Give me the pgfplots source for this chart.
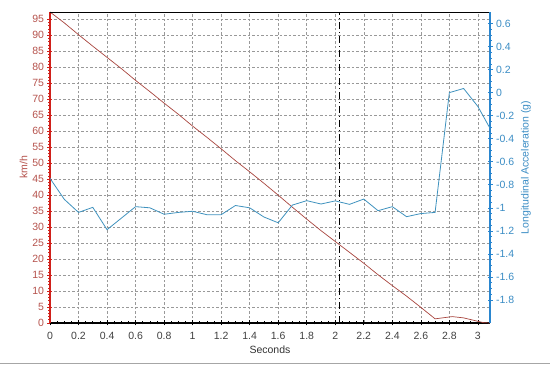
\documentclass[border=0pt]{standalone}
\usepackage{pgfplots}
\pgfplotsset{compat=1.18}
\usepackage{fontspec}
\setmainfont{Liberation Sans}
\definecolor{spdline}{HTML}{A8443E}
\definecolor{spdaxis}{HTML}{D0201A}
\definecolor{spdtext}{HTML}{B5524C}
\definecolor{accline}{HTML}{3F92BE}
\definecolor{accaxis}{HTML}{2A86CF}
\definecolor{acctext}{HTML}{3A8CC4}
\definecolor{gridc}{HTML}{999999}
\begin{document}
\begin{tikzpicture}[font=\fontsize{10.5}{12}\selectfont]
\begin{axis}[
  at={(0pt,0pt)}, anchor=south west,
  scale only axis, width=440pt, height=311pt,
  xmin=0, xmax=3.085, ymin=0, ymax=97.3,
  axis y line*=left, axis x line*=bottom,
  y axis line style={spdaxis, line width=1.6pt, -},
  x axis line style={black, line width=1.6pt, -},
  xtick={0,0.2,...,3.01}, ytick={0,5,...,95},
  minor x tick num=3, minor y tick num=4,
  tick align=center,
  major tick length=5pt, minor tick length=3pt,
  y tick style={spdaxis, line width=0.6pt},
  x tick style={black, line width=0.6pt},
  xticklabel style={text=black!75, yshift=-3pt},
  yticklabel style={text=spdtext},
  /pgf/number format/assume math mode=true,
  xticklabel={\pgfmathprintnumber[fixed,precision=1]{\tick}},
  xmajorgrids, ymajorgrids,
  major grid style={gridc, dash pattern=on 2.5pt off 2pt, line width=0.5pt},
  xlabel={Seconds}, xlabel style={text=black!80, at={(axis description cs:0.5,0)}, anchor=center, yshift=-27pt},
  ylabel={km/h}, ylabel style={text=spdtext, yshift=-2pt},
  clip=false,
]
\addplot[black, line width=0.9pt, dash pattern=on 7pt off 3pt on 1pt off 3pt] coordinates {(2.03,0) (2.03,97.3)};
\addplot[spdline, line width=0.7pt] coordinates {
(0,97.3) (0.1,93.9) (0.2,90.2) (0.3,86.6) (0.4,83.1) (0.5,79.6) (0.6,75.9) (0.7,72.4)
(0.8,68.8) (0.9,65.3) (1.0,61.6) (1.1,58.1) (1.2,54.5) (1.3,50.8) (1.4,47.3) (1.5,43.7)
(1.6,40.0) (1.7,36.2) (1.8,32.5) (1.9,28.9) (2.0,25.5) (2.1,22.1) (2.2,18.7) (2.3,15.1)
(2.4,11.7) (2.5,8.4) (2.6,4.9) (2.7,1.3) (2.82,2.0) (2.9,1.6) (3.04,0.1) (3.085,0)
};
\end{axis}
\begin{axis}[
  at={(0pt,0pt)}, anchor=south west,
  scale only axis, width=440pt, height=311pt,
  xmin=0, xmax=3.085, ymin=-2.0, ymax=0.7,
  axis y line*=right, axis x line*=top,
  y axis line style={accaxis, line width=1.6pt, -},
  x axis line style={black, line width=0.8pt, -},
  xtick=\empty,
  ytick={-1.8,-1.6,...,0.61},
  minor y tick num=3,
  tick align=center,
  major tick length=5pt, minor tick length=3pt,
  y tick style={accaxis, line width=0.6pt},
  yticklabel style={text=acctext},
  /pgf/number format/assume math mode=true,
  yticklabel={\pgfmathprintnumber[fixed,precision=1]{\tick}},
  ylabel={Longitudinal Acceleration (g)}, ylabel style={text=acctext, yshift=0pt},
]
\addplot[accline, line width=0.8pt] coordinates {
(0,-0.744) (0.1,-0.926) (0.2,-1.04) (0.3,-0.996) (0.4,-1.19) (0.5,-1.09) (0.6,-0.99)
(0.7,-1.0) (0.8,-1.056) (0.9,-1.04) (1.0,-1.03) (1.1,-1.06) (1.2,-1.06) (1.3,-0.98)
(1.4,-1.0) (1.5,-1.08) (1.6,-1.13) (1.7,-0.976) (1.8,-0.938) (1.9,-0.967) (2.0,-0.94)
(2.1,-0.97) (2.2,-0.924) (2.3,-1.025) (2.4,-0.99) (2.5,-1.077) (2.6,-1.05) (2.7,-1.04)
(2.8,0.0) (2.9,0.036) (3.0,-0.12) (3.085,-0.31)
};
\end{axis}
\draw[black!35, line width=0.8pt] (-50pt,-40pt) -- (500pt,-40pt);
\pgfresetboundingbox
\useasboundingbox (-50pt,-43pt) rectangle (500pt,323pt);
\end{tikzpicture}
\end{document}
